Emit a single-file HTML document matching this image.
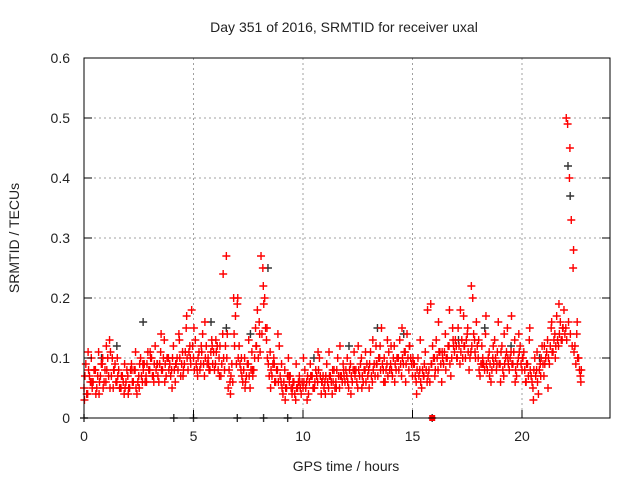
<!DOCTYPE html>
<html><head><meta charset="utf-8"><style>
body{margin:0;background:#fff;width:640px;height:480px;overflow:hidden}
svg text{font-family:"Liberation Sans",sans-serif;font-size:14px;fill:#222}
</style></head><body>
<svg id="chart" width="640" height="480" viewBox="0 0 640 480" xmlns="http://www.w3.org/2000/svg">
<text x="344" y="32" text-anchor="middle">Day 351 of 2016, SRMTID for receiver uxal</text>
<text x="346" y="471" text-anchor="middle">GPS time / hours</text>
<text x="19" y="238" text-anchor="middle" transform="rotate(-90 19 238)">SRMTID / TECUs</text>
<g id="grid"></g><g id="marks"></g><g id="axes"></g>
</svg>
<script>
const xTicks=[0,5,10,15,20];
const yTicks=[0,0.1,0.2,0.3,0.4,0.5,0.6];
const yTickLabels=["0","0.1","0.2","0.3","0.4","0.5","0.6"];
const stepA=1/12;
const seriesA=[
0.05,0.09,0.04,0.07,0.1,0.06,0.08,0.05,0.11,0.07,0.09,0.06,
0.06,0.1,0.13,0.07,0.05,0.09,0.06,0.08,0.05,0.07,0.04,0.06,
0.07,0.05,0.09,0.06,0.08,0.04,0.07,0.1,0.06,0.09,0.07,0.11,
0.08,0.1,0.07,0.12,0.09,0.06,0.11,0.08,0.13,0.07,0.1,0.09,
0.08,0.12,0.06,0.1,0.14,0.07,0.11,0.09,0.15,0.08,0.12,0.18,
0.1,0.13,0.08,0.11,0.09,0.14,0.07,0.12,0.1,0.08,0.13,0.11,
0.09,0.12,0.1,0.07,0.14,0.08,0.27,0.05,0.06,0.09,0.2,0.17,
0.19,0.12,0.08,0.06,0.1,0.07,0.09,0.05,0.11,0.08,0.15,0.18,
0.16,0.27,0.25,0.2,0.13,0.09,0.11,0.07,0.1,0.06,0.08,0.12,
0.06,0.04,0.08,0.05,0.1,0.07,0.04,0.06,0.03,0.05,0.07,0.04,
0.05,0.08,0.06,0.04,0.09,0.07,0.05,0.08,0.06,0.1,0.04,0.07,
0.06,0.09,0.05,0.07,0.04,0.08,0.06,0.1,0.05,0.07,0.09,0.06,
0.07,0.05,0.09,0.06,0.11,0.08,0.05,0.07,0.1,0.06,0.08,0.09,
0.08,0.11,0.06,0.09,0.12,0.07,0.1,0.15,0.08,0.06,0.09,0.11,
0.09,0.07,0.12,0.08,0.1,0.13,0.07,0.09,0.11,0.14,0.08,0.1,
0.07,0.09,0.06,0.1,0.08,0.05,0.07,0.11,0.06,0.08,0.19,0.12,
0.1,0.13,0.08,0.11,0.06,0.09,0.14,0.1,0.12,0.07,0.15,0.11,
0.12,0.15,0.09,0.13,0.17,0.1,0.14,0.08,0.11,0.2,0.13,0.16,
0.1,0.07,0.12,0.09,0.14,0.08,0.11,0.06,0.1,0.13,0.08,0.16,
0.09,0.12,0.07,0.1,0.15,0.08,0.11,0.09,0.13,0.07,0.1,0.12,
0.08,0.11,0.06,0.09,0.13,0.07,0.05,0.1,0.08,0.04,0.09,0.12,
0.07,0.1,0.13,0.09,0.15,0.11,0.14,0.17,0.12,0.16,0.13,0.18,
0.15,0.49,0.4,0.33,0.25,0.12,0.14,0.1,0.07];
const seriesC=[
0.07,0.04,0.08,0.06,0.05,0.08,0.04,0.07,0.06,0.09,0.05,0.08,
0.08,0.07,0.11,0.1,0.08,0.06,0.07,0.05,0.07,0.06,0.05,0.08,
0.05,0.08,0.06,0.08,0.05,0.06,0.09,0.07,0.08,0.06,0.09,0.08,
0.1,0.07,0.09,0.08,0.07,0.09,0.08,0.1,0.09,0.1,0.08,0.07,
0.1,0.08,0.09,0.08,0.1,0.09,0.08,0.11,0.1,0.11,0.09,0.12,
0.08,0.09,0.1,0.08,0.11,0.09,0.1,0.09,0.08,0.11,0.09,0.08,
0.11,0.08,0.12,0.09,0.1,0.12,0.14,0.08,0.07,0.06,0.12,0.09,
0.1,0.09,0.07,0.08,0.06,0.09,0.07,0.08,0.07,0.1,0.12,0.1,
0.11,0.14,0.19,0.15,0.1,0.07,0.08,0.09,0.06,0.08,0.06,0.07,
0.05,0.06,0.05,0.07,0.06,0.05,0.06,0.04,0.05,0.06,0.05,0.06,
0.06,0.05,0.07,0.06,0.07,0.05,0.06,0.07,0.08,0.07,0.06,0.05,
0.07,0.06,0.07,0.06,0.06,0.05,0.08,0.07,0.07,0.06,0.07,0.08,
0.06,0.08,0.07,0.08,0.07,0.06,0.08,0.09,0.07,0.08,0.06,0.07,
0.09,0.07,0.08,0.07,0.09,0.1,0.08,0.09,0.1,0.08,0.07,0.08,
0.08,0.1,0.09,0.1,0.08,0.09,0.1,0.11,0.09,0.1,0.12,0.09,
0.09,0.07,0.08,0.07,0.06,0.08,0.09,0.08,0.07,0.06,0.09,0.1,
0.08,0.1,0.11,0.09,0.1,0.11,0.1,0.12,0.09,0.1,0.12,0.13,
0.1,0.12,0.11,0.1,0.12,0.13,0.11,0.1,0.12,0.14,0.1,0.12,
0.08,0.09,0.1,0.08,0.09,0.1,0.09,0.08,0.09,0.1,0.11,0.09,
0.11,0.08,0.09,0.11,0.09,0.1,0.09,0.11,0.08,0.09,0.11,0.09,
0.1,0.08,0.09,0.07,0.08,0.06,0.08,0.07,0.06,0.08,0.1,0.09,
0.09,0.11,0.1,0.12,0.11,0.13,0.12,0.13,0.14,0.13,0.15,0.14,
0.13,0.16,0.14,0.12,0.11,0.09,0.1,0.08,0.08];
const stepB=1/6;
const seriesB=[
0.03,0.11,0.06,0.08,0.04,0.1, 0.12,0.05,0.08,0.1,0.05,0.09,
0.04,0.08,0.11,0.05,0.09,0.06, 0.11,0.06,0.09,0.14,0.06,0.1,
0.05,0.09,0.13,0.07,0.17,0.1, 0.15,0.07,0.12,0.16,0.09,0.12,
0.13,0.07,0.24,0.1,0.04,0.14, 0.2,0.1,0.05,0.13,0.08,0.12,
0.14,0.22,0.15,0.05,0.09,0.14, 0.09,0.03,0.07,0.05,0.09,0.06,
0.1,0.03,0.07,0.05,0.11,0.06, 0.04,0.11,0.08,0.05,0.12,0.08,
0.1,0.04,0.08,0.12,0.05,0.11, 0.05,0.13,0.09,0.12,0.06,0.13,
0.12,0.06,0.1,0.15,0.06,0.12, 0.1,0.04,0.13,0.07,0.18,0.09,
0.07,0.16,0.11,0.08,0.18,0.13, 0.1,0.18,0.12,0.15,0.22,0.11,
0.13,0.09,0.17,0.07,0.12,0.09, 0.06,0.14,0.1,0.17,0.06,0.14,
0.1,0.06,0.15,0.03,0.11,0.07, 0.12,0.05,0.16,0.1,0.19,0.15,
0.5,0.45,0.28,0.16,0.06];
const darkHours=[0,0.8,1.5,2.7,4.1,5,5.8,6.5,7,7.6,8.2,8.4,9.3,10.5,12.1,13.4,14.6,15.9,17.1,18.3,19.5,20.8,22.1,22.2];
const darkValues=[0,0.1,0.12,0.16,0,0,0.16,0.15,0,0.14,0,0.25,0,0.1,0.12,0.15,0.14,0,0.13,0.15,0.12,0.1,0.42,0.37];
const X=h=>84+h*21.9, Y=v=>418-v*600;
const NS="http://www.w3.org/2000/svg";
function mk(t,a,p){const e=document.createElementNS(NS,t);for(const k in a)e.setAttribute(k,a[k]);p.appendChild(e);return e;}
const grid=document.getElementById('grid'),marks=document.getElementById('marks'),axes=document.getElementById('axes');
xTicks.forEach((t,i)=>{
 if(t>0){const g=mk('line',{x1:X(t),x2:X(t),y1:58,y2:418,stroke:'#a0a0a0','stroke-dasharray':'2,3'},grid);
 
 }
 const tk=mk('line',{x1:X(t),x2:X(t),y1:418,y2:410,stroke:'#000'},axes);
 
 
 const l=mk('text',{x:X(t),y:441,'text-anchor':'middle'},axes);l.textContent=t;
 
 
});
yTicks.forEach((t,i)=>{
 if(t>0&&t<0.6){const g=mk('line',{x1:84,x2:610,y1:Y(t),y2:Y(t),stroke:'#a0a0a0','stroke-dasharray':'2,3'},grid);
 
 }
 const tk=mk('line',{x1:84,x2:92,y1:Y(t),y2:Y(t),stroke:'#000'},axes);
 
 
 const tk2=mk('line',{x1:602,x2:610,y1:Y(t),y2:Y(t),stroke:'#000'},axes);
 
 
 const l=mk('text',{x:70,y:Y(t)+5,'text-anchor':'end'},axes);l.textContent=yTickLabels[i];
 
 
});
const fr=mk('rect',{x:84,y:58,width:526,height:360,fill:'none',stroke:'#000'},axes);


function plus(h,v,c,name){
 const x=X(h),y=Y(v);
 const p=mk('path',{d:`M${x-4},${y}h8M${x},${y-4}v8`,stroke:c,'stroke-width':1.4,fill:'none'},marks);
 
 
}
darkHours.forEach((h,i)=>plus(h,darkValues[i],'#333','dark-point'));
seriesA.forEach((v,i)=>plus(i*stepA,v,'#ff0000','red-point'));
seriesC.forEach((v,i)=>plus(i*stepA+stepA/2,v,'#ff0000','red-point'));
seriesB.forEach((v,i)=>plus(i*stepB+stepA/4,v,'#ff0000','red-point'));
const sq=mk('rect',{x:X(15.9)-3,y:415,width:6,height:6,fill:'#ff0000'},marks);


</script>
</body></html>
